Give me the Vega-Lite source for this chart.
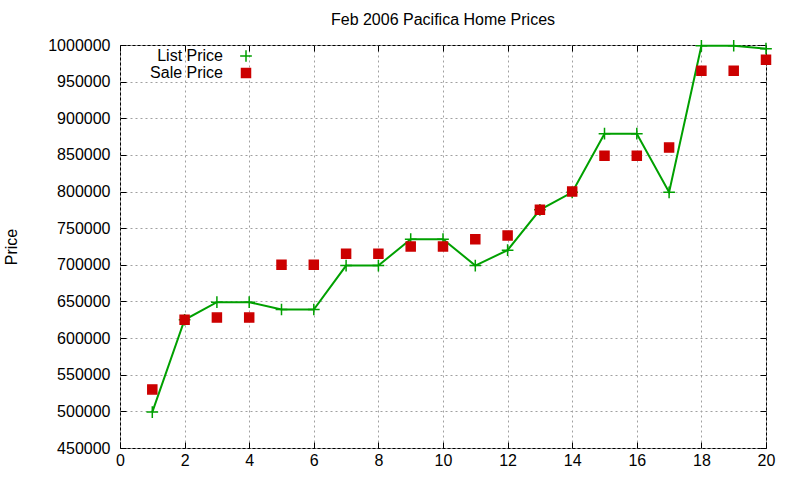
{
  "$schema": "https://vega.github.io/schema/vega-lite/v6.json",
  "autosize": "none",
  "width": 646,
  "height": 403,
  "padding": {"left": 120, "top": 45, "right": 34, "bottom": 32},
  "background": "white",
  "title": {"text": "Feb 2006 Pacifica Home Prices", "font": "Liberation Sans", "fontSize": 16, "fontWeight": "normal", "color": "black", "offset": 9},
  "config": {
    "view": {"stroke": "black", "strokeWidth": 1},
    "axis": {"labelFont": "Liberation Sans", "labelFontSize": 16, "labelColor": "black", "titleFont": "Liberation Sans", "titleFontSize": 16, "titleFontWeight": "normal", "titleColor": "black", "tickColor": "black", "domain": false, "gridColor": "#a0a0a0", "gridDash": [2, 3], "gridWidth": 1, "tickSize": -6, "labelPadding": 14}
  },
  "data": {"values": [
    {"n": 1, "series": "List Price", "price": 499000}, {"n": 2, "series": "List Price", "price": 625000},
    {"n": 3, "series": "List Price", "price": 649000}, {"n": 4, "series": "List Price", "price": 649000},
    {"n": 5, "series": "List Price", "price": 639000}, {"n": 6, "series": "List Price", "price": 639000},
    {"n": 7, "series": "List Price", "price": 699000}, {"n": 8, "series": "List Price", "price": 699000},
    {"n": 9, "series": "List Price", "price": 735000}, {"n": 10, "series": "List Price", "price": 735000},
    {"n": 11, "series": "List Price", "price": 699000}, {"n": 12, "series": "List Price", "price": 720000},
    {"n": 13, "series": "List Price", "price": 775000}, {"n": 14, "series": "List Price", "price": 799000},
    {"n": 15, "series": "List Price", "price": 879000}, {"n": 16, "series": "List Price", "price": 879000},
    {"n": 17, "series": "List Price", "price": 799000}, {"n": 18, "series": "List Price", "price": 999000},
    {"n": 19, "series": "List Price", "price": 999000}, {"n": 20, "series": "List Price", "price": 995000},
    {"n": 1, "series": "Sale Price", "price": 530000}, {"n": 2, "series": "Sale Price", "price": 625000},
    {"n": 3, "series": "Sale Price", "price": 628000}, {"n": 4, "series": "Sale Price", "price": 628000},
    {"n": 5, "series": "Sale Price", "price": 700000}, {"n": 6, "series": "Sale Price", "price": 700000},
    {"n": 7, "series": "Sale Price", "price": 715000}, {"n": 8, "series": "Sale Price", "price": 715000},
    {"n": 9, "series": "Sale Price", "price": 725000}, {"n": 10, "series": "Sale Price", "price": 725000},
    {"n": 11, "series": "Sale Price", "price": 735000}, {"n": 12, "series": "Sale Price", "price": 740000},
    {"n": 13, "series": "Sale Price", "price": 775000}, {"n": 14, "series": "Sale Price", "price": 800000},
    {"n": 15, "series": "Sale Price", "price": 849000}, {"n": 16, "series": "Sale Price", "price": 849000},
    {"n": 17, "series": "Sale Price", "price": 860000}, {"n": 18, "series": "Sale Price", "price": 965000},
    {"n": 19, "series": "Sale Price", "price": 965000}, {"n": 20, "series": "Sale Price", "price": 980000}
  ]},
  "resolve": {"axis": {"x": "independent", "y": "independent"}},
  "layer": [
    {
      "mark": {"type": "line", "color": "#00a000", "strokeWidth": 2},
      "transform": [{"filter": "datum.series == 'List Price'"}],
      "encoding": {
        "x": {"field": "n", "type": "quantitative", "scale": {"domain": [0, 20], "nice": false},
              "axis": {"values": [0, 2, 4, 6, 8, 10, 12, 14, 16, 18, 20], "title": null, "format": "d", "labelFlush": false, "labelPadding": 10}},
        "y": {"field": "price", "type": "quantitative", "scale": {"domain": [450000, 1000000], "nice": false, "zero": false},
              "axis": {"values": [450000, 500000, 550000, 600000, 650000, 700000, 750000, 800000, 850000, 900000, 950000, 1000000], "format": "d", "title": "Price", "titlePadding": 28, "labelPadding": 16}}
      }
    },
    {
      "mark": {"type": "point", "filled": true, "opacity": 1, "strokeWidth": 1.5, "size": 81},
      "encoding": {
        "x": {"field": "n", "type": "quantitative",
              "axis": {"orient": "top", "values": [0, 2, 4, 6, 8, 10, 12, 14, 16, 18, 20], "labels": false, "grid": false, "title": null}},
        "y": {"field": "price", "type": "quantitative",
              "axis": {"orient": "right", "values": [450000, 500000, 550000, 600000, 650000, 700000, 750000, 800000, 850000, 900000, 950000, 1000000], "labels": false, "grid": false, "title": null}},
        "color": {"field": "series", "type": "nominal", "scale": {"domain": ["List Price", "Sale Price"], "range": ["#00a000", "#cc0000"]},
                  "legend": {"title": null, "orient": "none", "legendX": 118, "legendY": 3, "labelFont": "Liberation Sans", "labelFontSize": 16, "labelColor": "black", "labelAlign": "right", "labelOffset": -31, "rowPadding": 0, "symbolSize": 81}},
        "stroke": {"field": "series", "type": "nominal", "scale": {"domain": ["List Price", "Sale Price"], "range": ["#00a000", "#cc0000"]}},
        "shape": {"field": "series", "type": "nominal", "scale": {"domain": ["List Price", "Sale Price"], "range": ["M-1.3,0L1.3,0M0,-1.3L0,1.3", "square"]}}
      }
    }
  ]
}
